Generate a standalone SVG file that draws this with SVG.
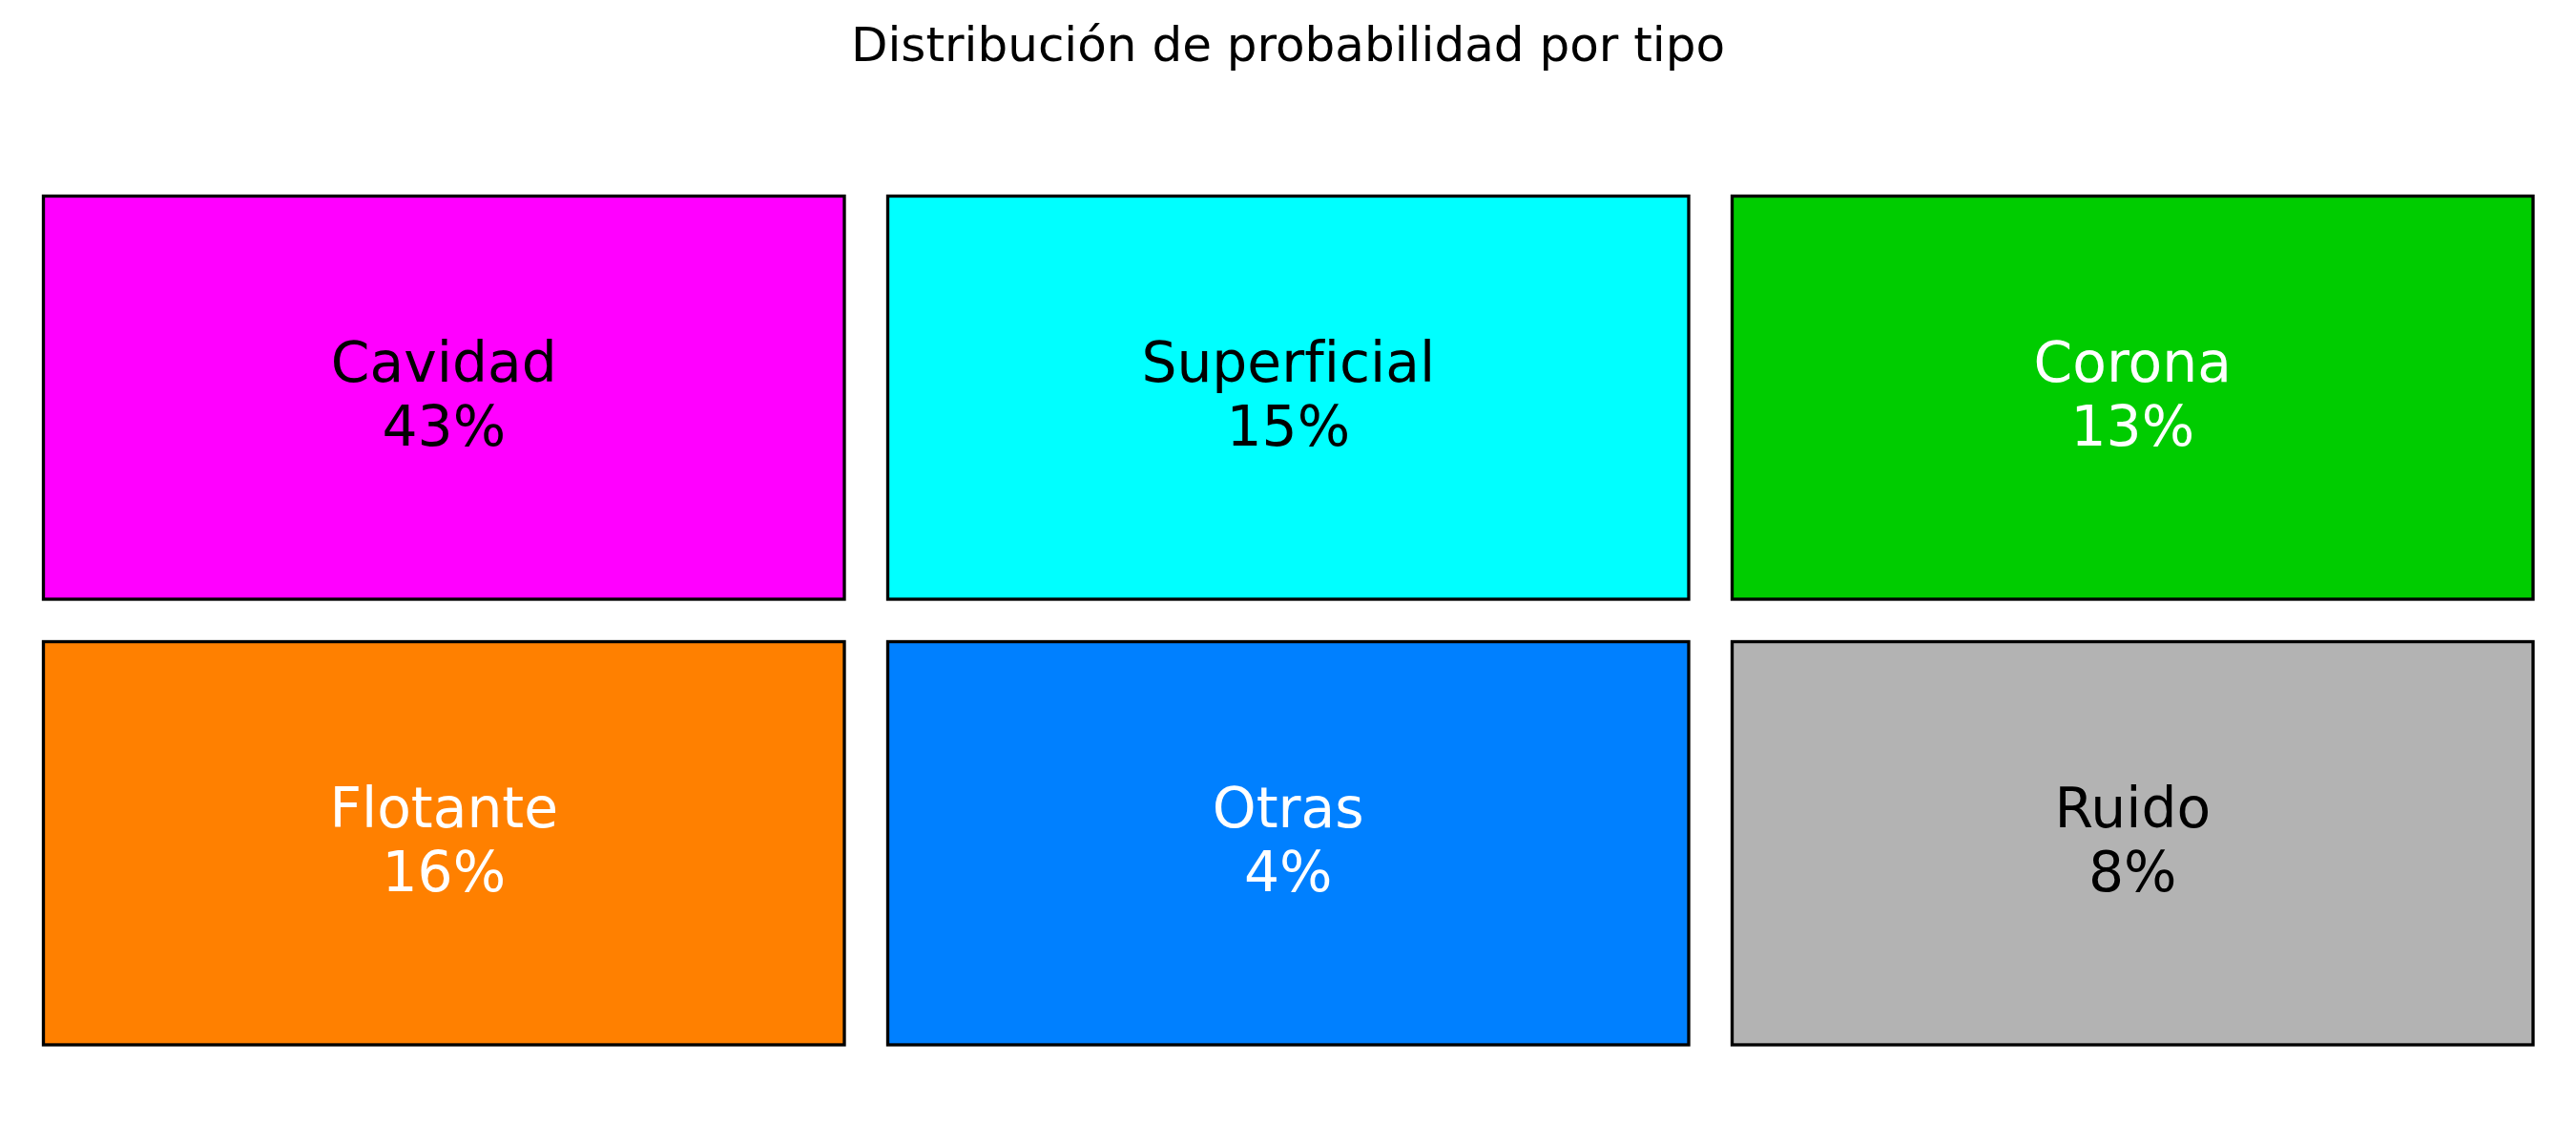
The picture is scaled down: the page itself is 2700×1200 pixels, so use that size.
<svg xmlns="http://www.w3.org/2000/svg" width="2700" height="1200" viewBox="0 0 2700 1200">
<style>
.box{stroke:#000;stroke-width:3.33}
.lbl{font-family:"DejaVu Sans",sans-serif;font-size:58.3px;text-anchor:middle;font-variant-ligatures:none}
.dark{fill:#000}
.light{fill:#fff}
.title{font-family:"DejaVu Sans",sans-serif;font-size:50px;text-anchor:middle;fill:#000}
</style>
<rect width="2700" height="1200" fill="#fff"/>
<text class="title" x="1350" y="64">Distribución de probabilidad por tipo</text>
<g id="connectors"></g>
<g id="cavidad">
<rect class="box" x="45.5" y="205.5" width="839.5" height="422.5" fill="#ff00ff"/>
<text class="lbl dark" x="465.25" y="400">Cavidad</text>
<text class="lbl dark" x="465.25" y="466.7">43%</text>
</g>
<g id="superficial">
<rect class="box" x="930.5" y="205.5" width="839.5" height="422.5" fill="#00ffff"/>
<text class="lbl dark" x="1350.25" y="400">Superficial</text>
<text class="lbl dark" x="1350.25" y="466.7">15%</text>
</g>
<g id="corona">
<rect class="box" x="1815.5" y="205.5" width="839.5" height="422.5" fill="#00cc00"/>
<text class="lbl light" x="2235.25" y="400">Corona</text>
<text class="lbl light" x="2235.25" y="466.7">13%</text>
</g>
<g id="flotante">
<rect class="box" x="45.5" y="672.5" width="839.5" height="422.5" fill="#ff8000"/>
<text class="lbl light" x="465.25" y="867">Flotante</text>
<text class="lbl light" x="465.25" y="933.7">16%</text>
</g>
<g id="otras">
<rect class="box" x="930.5" y="672.5" width="839.5" height="422.5" fill="#0080ff"/>
<text class="lbl light" x="1350.25" y="867">Otras</text>
<text class="lbl light" x="1350.25" y="933.7">4%</text>
</g>
<g id="ruido">
<rect class="box" x="1815.5" y="672.5" width="839.5" height="422.5" fill="#b3b3b3"/>
<text class="lbl dark" x="2235.25" y="867">Ruido</text>
<text class="lbl dark" x="2235.25" y="933.7">8%</text>
</g>
</svg>
